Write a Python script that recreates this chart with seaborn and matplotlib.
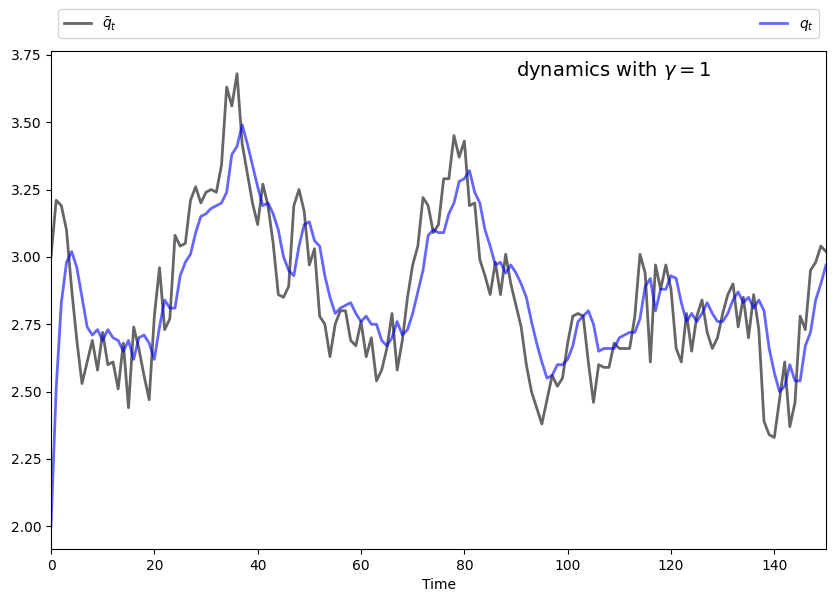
import matplotlib
matplotlib.use("Agg")
import matplotlib.pyplot as plt
import numpy as np
import seaborn as sns

# time steps 0..150
time = np.arange(151)

qbar = [3.00, 3.21, 3.19, 3.10, 2.88, 2.69, 2.53, 2.61, 2.69, 2.58,
        2.72, 2.60, 2.61, 2.51, 2.68, 2.44, 2.74, 2.66, 2.56, 2.47,
        2.78, 2.96, 2.73, 2.77, 3.08, 3.04, 3.05, 3.21, 3.26, 3.20,
        3.24, 3.25, 3.24, 3.34, 3.63, 3.56, 3.68, 3.42, 3.31, 3.20,
        3.12, 3.27, 3.19, 3.05, 2.86, 2.85, 2.89, 3.19, 3.25, 3.17,
        2.97, 3.03, 2.78, 2.75, 2.63, 2.75, 2.80, 2.80, 2.69, 2.67,
        2.76, 2.63, 2.70, 2.54, 2.58, 2.66, 2.79, 2.58, 2.69, 2.85,
        2.97, 3.04, 3.22, 3.19, 3.09, 3.12, 3.29, 3.29, 3.45, 3.37,
        3.43, 3.19, 3.20, 2.99, 2.93, 2.86, 2.98, 2.86, 3.01, 2.90,
        2.82, 2.74, 2.60, 2.50, 2.44, 2.38, 2.47, 2.56, 2.52, 2.55,
        2.68, 2.78, 2.79, 2.78, 2.61, 2.46, 2.60, 2.59, 2.59, 2.68,
        2.66, 2.66, 2.66, 2.78, 3.01, 2.94, 2.61, 2.97, 2.88, 2.97,
        2.88, 2.66, 2.61, 2.79, 2.65, 2.78, 2.84, 2.72, 2.66, 2.70,
        2.79, 2.86, 2.90, 2.74, 2.85, 2.70, 2.86, 2.73, 2.39, 2.34,
        2.33, 2.47, 2.61, 2.37, 2.46, 2.78, 2.73, 2.95, 2.98, 3.04,
        3.02]

# q (adjusting series)
q = [2.00, 2.51, 2.83, 2.98, 3.02, 2.96, 2.85, 2.74, 2.71, 2.73,
     2.69, 2.73, 2.70, 2.69, 2.65, 2.69, 2.62, 2.70, 2.71, 2.68,
     2.62, 2.74, 2.84, 2.81, 2.81, 2.93, 2.98, 3.01, 3.09, 3.15,
     3.16, 3.18, 3.19, 3.20, 3.24, 3.38, 3.41, 3.49, 3.42, 3.34,
     3.26, 3.19, 3.20, 3.16, 3.10, 3.00, 2.95, 2.93, 3.04, 3.12,
     3.13, 3.06, 3.04, 2.93, 2.85, 2.79, 2.81, 2.82, 2.83, 2.79,
     2.76, 2.78, 2.75, 2.75, 2.69, 2.67, 2.70, 2.76, 2.71, 2.73,
     2.79, 2.87, 2.95, 3.08, 3.10, 3.09, 3.09, 3.16, 3.20, 3.28,
     3.29, 3.32, 3.24, 3.20, 3.10, 3.04, 2.97, 2.98, 2.94, 2.97,
     2.94, 2.90, 2.85, 2.76, 2.68, 2.61, 2.55, 2.56, 2.60, 2.60,
     2.62, 2.67, 2.76, 2.78, 2.80, 2.75, 2.65, 2.66, 2.66, 2.66,
     2.70, 2.71, 2.72, 2.72, 2.77, 2.89, 2.92, 2.80, 2.88, 2.88,
     2.93, 2.92, 2.83, 2.76, 2.79, 2.76, 2.79, 2.83, 2.79, 2.76,
     2.76, 2.79, 2.84, 2.87, 2.83, 2.85, 2.81, 2.84, 2.80, 2.66,
     2.57, 2.50, 2.52, 2.60, 2.54, 2.54, 2.67, 2.72, 2.84, 2.90,
     2.97]

fig = plt.figure(figsize=(8.35, 6.04), dpi=100)
ax = fig.add_axes([51 / 835, 55 / 604, 775 / 835, 498 / 604])

sns.lineplot(x=time, y=qbar, ax=ax, color="k", alpha=0.6, lw=2, label=r"$\bar{q}_t$")
sns.lineplot(x=time, y=q, ax=ax, color="b", alpha=0.6, lw=2, label=r"$q_t$")

ax.set_xlim(0, 150)
ax.set_xlabel("Time")
ax.text(90, 3.67, r"dynamics with $\gamma = 1$", fontsize=14)
# legend strip above the axes, stretched across its width
ax.legend(bbox_to_anchor=(0., 1.012, 1., .102), loc=3, ncol=2, mode="expand")

fig.savefig("out.png", dpi=100)
